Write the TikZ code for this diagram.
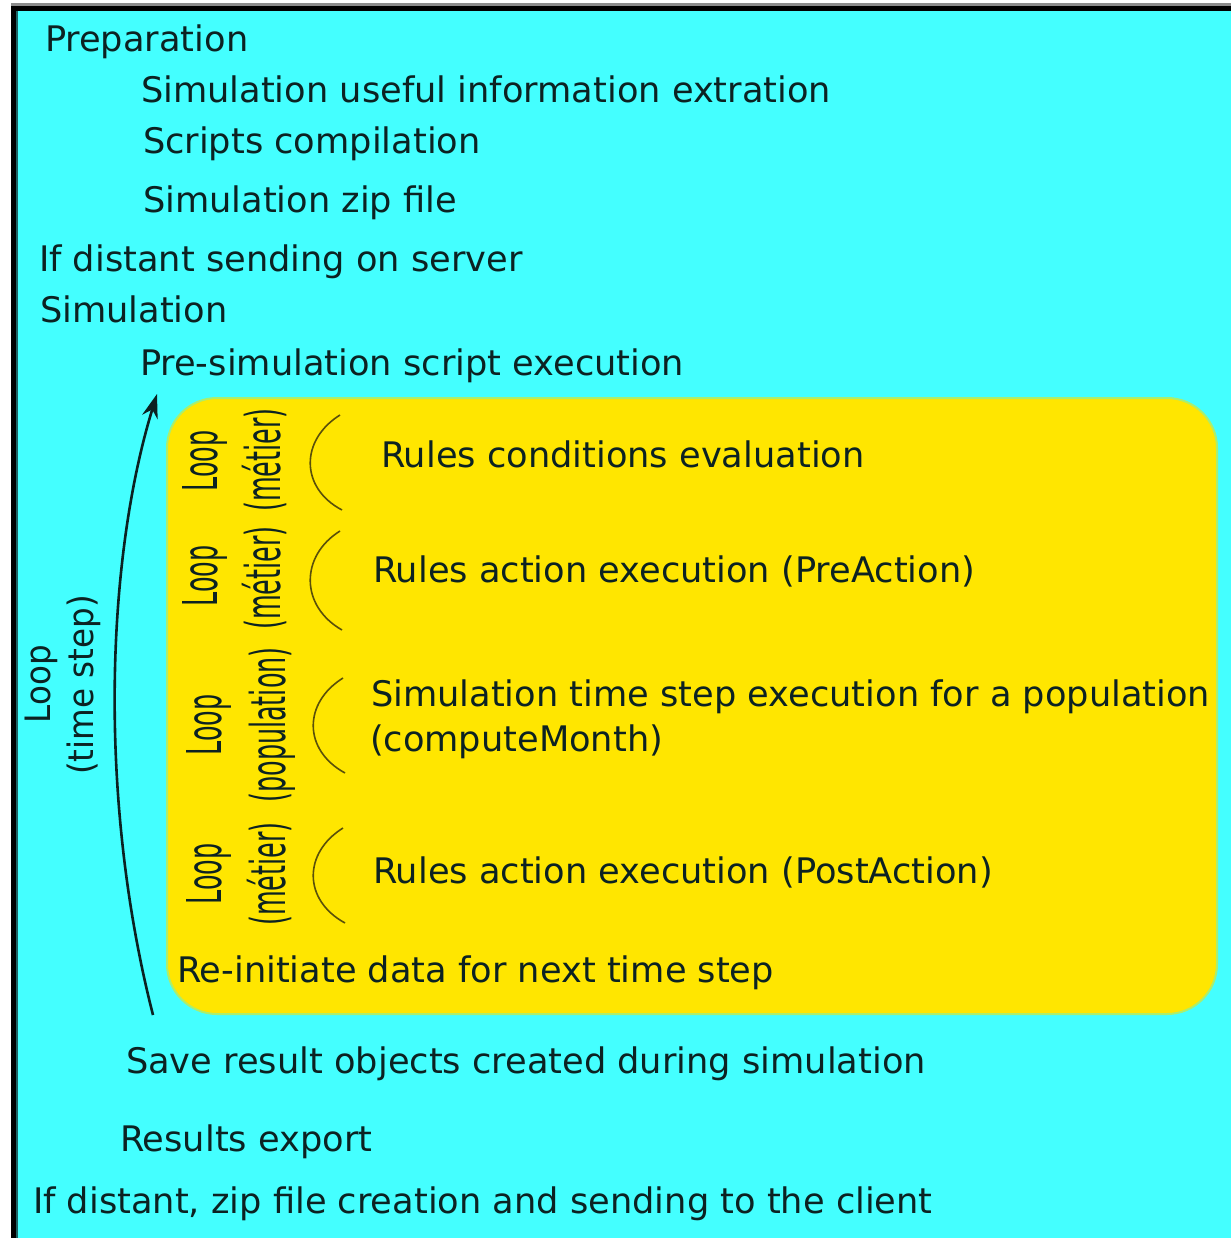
\documentclass[tikz,border=0pt]{standalone}
\usepackage{fontspec}
\setmainfont{DejaVu Sans}
\usetikzlibrary{arrows.meta}
\definecolor{bgcyan}{RGB}{68,255,255}
\definecolor{boxyellow}{RGB}{255,230,0}
\definecolor{edgegreen}{RGB}{170,238,110}
\definecolor{ink}{RGB}{12,34,34}
\definecolor{arcink}{RGB}{90,80,10}
\begin{document}
\begin{tikzpicture}[x=1pt,y=-1pt,
  txt/.style={anchor=base west, inner sep=0pt, outer sep=0pt, font=\fontsize{35.2}{42}\selectfont, text=ink},
  rot/.style={anchor=base, inner sep=0pt, outer sep=0pt, rotate=90, font=\fontsize{48}{56}\selectfont, text=ink},
  rotbig/.style={anchor=base, inner sep=0pt, outer sep=0pt, rotate=90, font=\fontsize{35}{42}\selectfont, text=ink},
  arcline/.style={draw=arcink, line width=1.6pt},
  looparrow/.style={draw=ink, line width=2.6pt, -{Stealth[length=24pt,width=16pt]}}]
\useasboundingbox (0,0) rectangle (1231,1238);
% frame
\fill[white] (0,0) rectangle (1231,1238);
\fill[black!45] (11,3) rectangle (1231,6);
\fill[black] (11,6) rectangle (1231,11);
\fill[black] (11,6) rectangle (16,1238);
\fill[ink!70!bgcyan] (16,11) rectangle (18,1238);
\fill[bgcyan] (18,11) rectangle (1231,1238);
% yellow loop box
\node[draw=edgegreen, line width=2pt, fill=boxyellow, rounded corners=50pt,
      minimum width=1050pt, minimum height=616pt, inner sep=0pt, outer sep=0pt,
      anchor=north west] (loopbox) at (167,398) {};
% texts
\node[txt] (prep)  at (45,52)   {Preparation};
\node[txt] (extr)  at (141,103) {Simulation useful information extration};
\node[txt] (comp)  at (143,154) {Scripts compilation};
\node[txt] (zip)   at (143,213) {Simulation zip file};
\node[txt] (send)  at (39,272)  {If distant sending on server};
\node[txt] (simu)  at (40,323)  {Simulation};
\node[txt] (presc) at (140,375) {Pre-simulation script execution};
\node[txt] (cond)  at (381,467) {Rules conditions evaluation};
\node[txt] (pre)   at (373,582) {Rules action execution (PreAction)};
\node[txt] (step)  at (371,706) {Simulation time step execution for a population};
\node[txt] (cmon)  at (370,751) {(computeMonth)};
\node[txt] (post)  at (373,883) {Rules action execution (PostAction)};
\node[txt] (reini) at (177,982) {Re-initiate data for next time step};
\node[txt] (save)  at (126,1073) {Save result objects created during simulation};
\node[txt] (expo)  at (120,1151) {Results export};
\node[txt] (dist)  at (33,1213) {If distant, zip file creation and sending to the client};
% rotated loop labels
\node[rotbig] (tloop) at (50,684) {\scalebox{0.93}[1]{Loop}};
\node[rotbig] (tstep) at (93,685) {\scalebox{0.93}[1]{(time step)}};
\node[rot] (l1) at (217,461) {\scalebox{0.53}[1]{Loop}};
\node[rot] (m1) at (280,460) {\scalebox{0.53}[1]{(métier)}};
\node[rot] (l2) at (217,576) {\scalebox{0.53}[1]{Loop}};
\node[rot] (m2) at (280,578) {\scalebox{0.53}[1]{(métier)}};
\node[rot] (l3) at (221,725) {\scalebox{0.53}[1]{Loop}};
\node[rot] (p3) at (285,725) {\scalebox{0.53}[1]{(population)}};
\node[rot] (l4) at (221,874) {\scalebox{0.53}[1]{Loop}};
\node[rot] (m4) at (285,874) {\scalebox{0.53}[1]{(métier)}};
% arcs
\draw[arcline] (340,415) .. controls (300,440) and (300,488) .. (342,510);
\draw[arcline] (340,531) .. controls (300,556) and (300,606) .. (342,630);
\draw[arcline] (343,678) .. controls (303,703) and (303,750) .. (345,773);
\draw[arcline] (343,828) .. controls (303,853) and (303,900) .. (345,923);
% time-step arrow
\coordinate (abot) at (153,1015);
\coordinate (atop) at (157,394);
\draw[looparrow] (abot) .. controls (98,800) and (106,560) .. (atop);
\end{tikzpicture}
\end{document}
